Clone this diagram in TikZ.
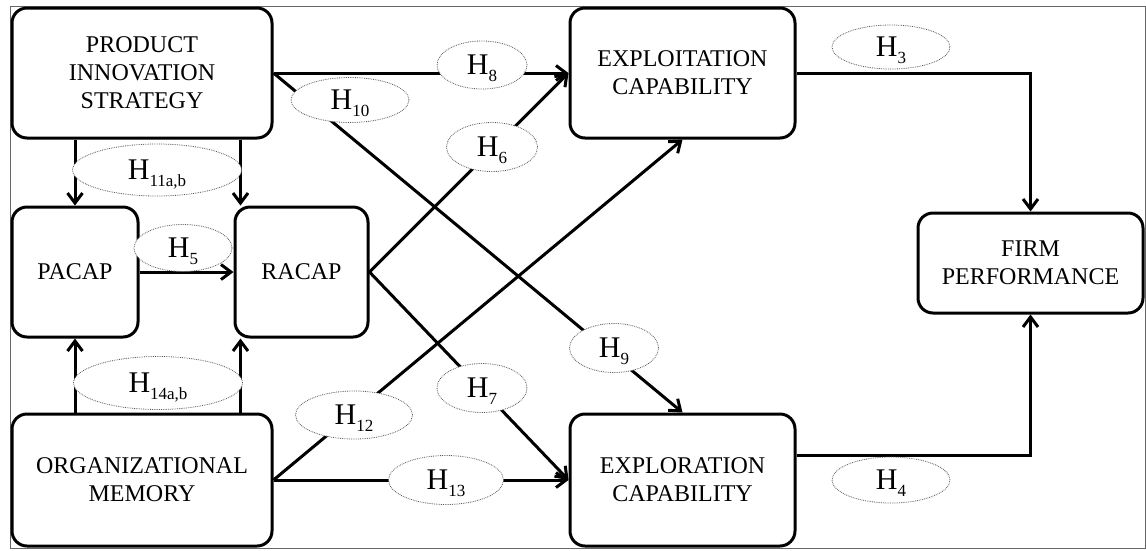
\documentclass[tikz,border=0pt]{standalone}
\usepackage{fontspec}
\setmainfont{Liberation Serif}
\usetikzlibrary{arrows.meta,shapes.geometric}
% hypothesis label: H with a lowered subscript that does not change the box size
\newcommand{\hlab}[1]{H\raisebox{-7pt}[0pt][0pt]{\fontsize{17}{17}\selectfont #1}}
\begin{document}
\begin{tikzpicture}[x=1pt,y=-1pt,
  box/.style={draw, line width=3pt, rounded corners=15pt, fill=white, align=center,
              inner sep=0pt, font=\fontsize{24}{28}\selectfont},
  hyp/.style={ellipse, draw=black!65, densely dotted, line width=0.8pt, fill=white,
              inner sep=0pt, font=\fontsize{30}{30}\selectfont},
  arr/.style={line width=3pt, -{Straight Barb[length=10pt,width=15pt]}},
  link/.style={line width=3pt}]
\useasboundingbox (0,0) rectangle (1146,550);
\draw[black!60, line width=1pt] (10,6) rectangle (1145,548);

% constructs
\node[box, minimum width=260pt, minimum height=130pt] (pis) at (142,73) {PRODUCT\\INNOVATION\\STRATEGY};
\node[box, minimum width=126pt, minimum height=130pt] (pacap) at (75,272) {PACAP};
\node[box, minimum width=133pt, minimum height=130pt] (racap) at (301.5,272) {RACAP};
\node[box, minimum width=260pt, minimum height=132pt] (om) at (142,480) {ORGANIZATIONAL\\MEMORY};
\node[box, minimum width=225pt, minimum height=130pt] (expl) at (682.5,73) {EXPLOITATION\\CAPABILITY};
\node[box, minimum width=225pt, minimum height=132pt] (expr) at (682.5,480) {EXPLORATION\\CAPABILITY};
\node[box, minimum width=225pt, minimum height=100pt] (firm) at (1030.5,263) {FIRM\\PERFORMANCE};

% anchor points for the vertical links into RACAP
\coordinate (rtop) at ([xshift=7pt]racap.north west);
\coordinate (rbot) at ([xshift=7pt]racap.south west);

% paths
\draw[arr] (pis.east) -- (expl.west);
\draw[arr] (pis.east) -- (expr.north);
\draw[arr] (racap.east) -- (expl.west);
\draw[arr] (racap.east) -- (expr.west);
\draw[arr] (om.east) -- (expl.south);
\draw[arr] (om.east) -- (expr.west);
\draw[arr] (pacap.east) -- (racap.west);
\draw[arr] (pacap.north |- pis.south) -- (pacap.north);
\draw[arr] (rtop |- pis.south) -- (rtop);
\draw[arr] (pacap.south |- om.north) -- (pacap.south);
\draw[arr] (rbot |- om.north) -- (rbot);
\draw[arr] (expl.east) -| (firm.north);
\draw[arr] ([yshift=25pt]expr.east) -| (firm.south);

% hypothesis labels
\node[hyp, minimum width=90pt, minimum height=48pt] (h8) at (482,65) {\hlab{8}};
\node[hyp, minimum width=118pt, minimum height=45pt] (h10) at (350,100) {\hlab{10}};
\node[hyp, minimum width=91pt, minimum height=49pt] (h6) at (492,147) {\hlab{6}};
\node[hyp, minimum width=169pt, minimum height=52pt] (h11) at (157,170) {\hlab{11a,b}};
\node[hyp, minimum width=98pt, minimum height=47pt] (h5) at (183,248) {\hlab{5}};
\node[hyp, minimum width=169pt, minimum height=53pt] (h14) at (158,383) {\hlab{14a,b}};
\node[hyp, minimum width=117pt, minimum height=48pt] (h12) at (354,415) {\hlab{12}};
\node[hyp, minimum width=90pt, minimum height=49pt] (h7) at (482,388) {\hlab{7}};
\node[hyp, minimum width=89pt, minimum height=49pt] (h9) at (614,348) {\hlab{9}};
\node[hyp, minimum width=115pt, minimum height=49pt] (h13) at (446,480) {\hlab{13}};
\node[hyp, minimum width=118pt, minimum height=44pt] (h3) at (891,47) {\hlab{3}};
\node[hyp, minimum width=118pt, minimum height=46pt] (h4) at (891,480) {\hlab{4}};
\end{tikzpicture}
\end{document}
